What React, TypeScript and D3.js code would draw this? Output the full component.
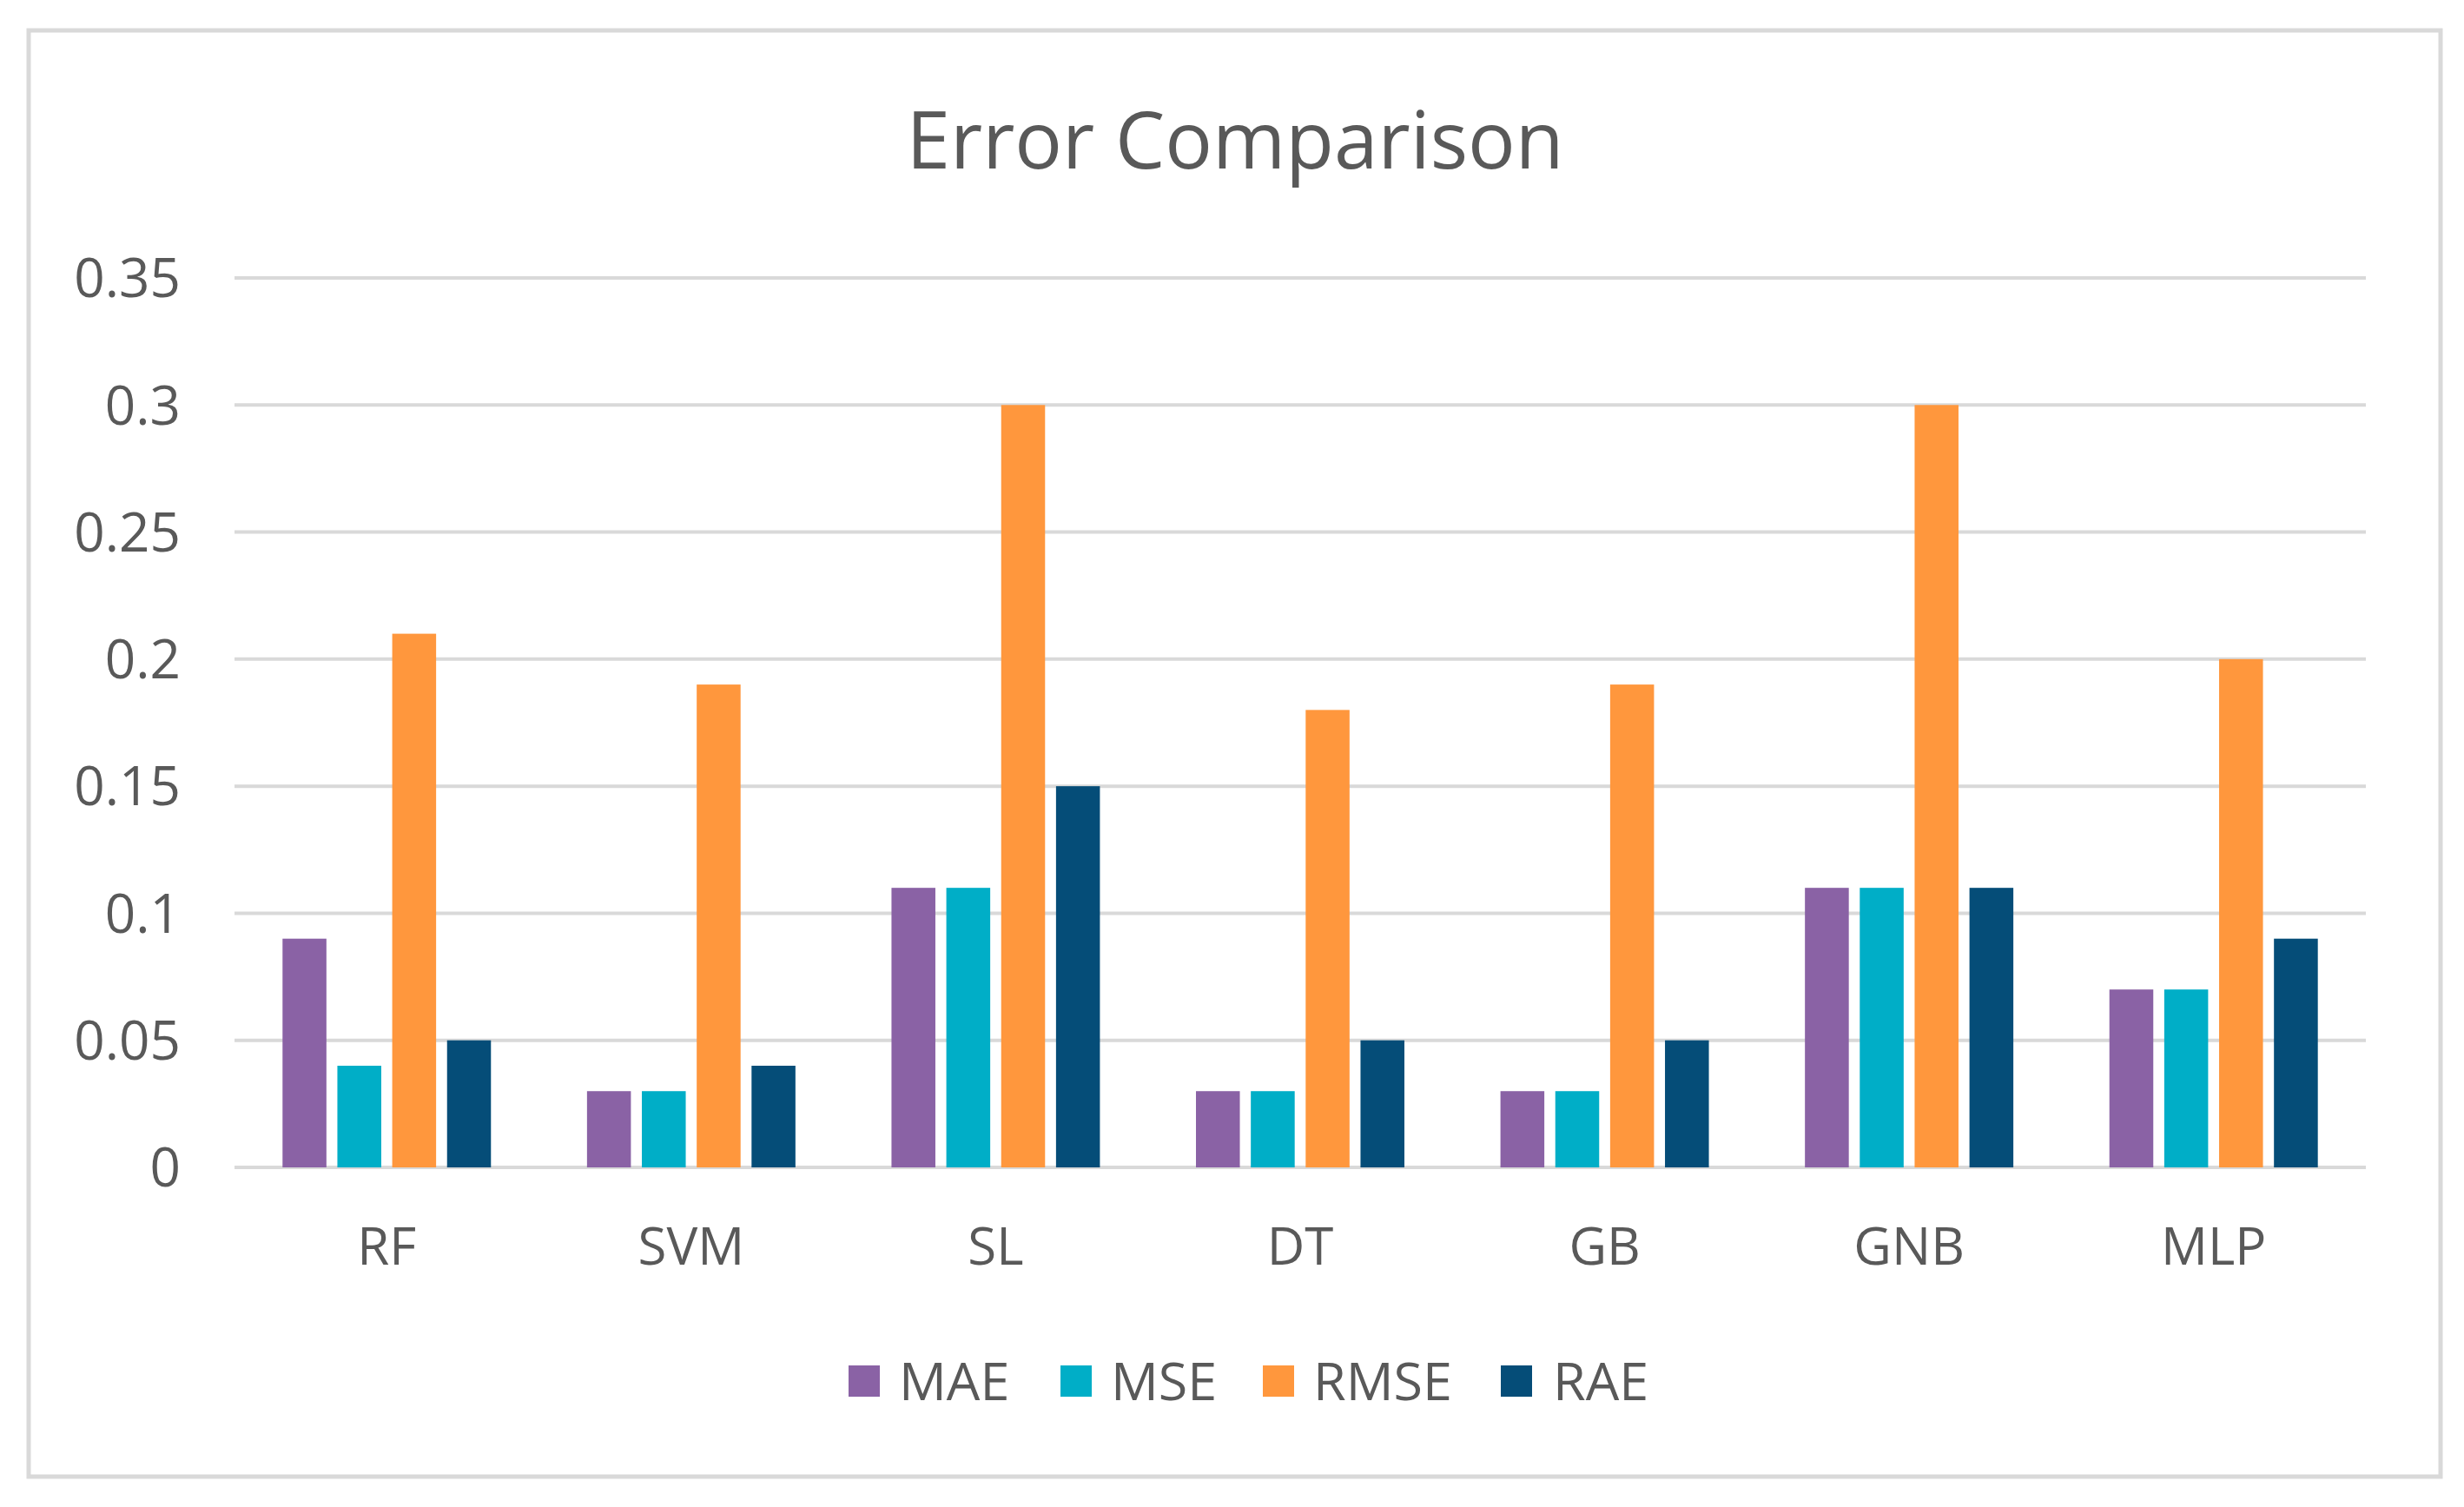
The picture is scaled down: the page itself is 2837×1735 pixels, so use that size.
import React from "react";
import * as d3 from "d3";

const categories = ["RF", "SVM", "SL", "DT", "GB", "GNB", "MLP"];
const seriesNames = ["MAE", "MSE", "RMSE", "RAE"];
const maeValues = [0.09, 0.03, 0.11, 0.03, 0.03, 0.11, 0.07];
const mseValues = [0.04, 0.03, 0.11, 0.03, 0.03, 0.11, 0.07];
const rmseValues = [0.21, 0.19, 0.3, 0.18, 0.19, 0.3, 0.2];
const raeValues = [0.05, 0.04, 0.15, 0.05, 0.05, 0.11, 0.09];
const yTicks = [0, 0.05, 0.1, 0.15, 0.2, 0.25, 0.3, 0.35];
const tickLabels = ["0", "0.05", "0.1", "0.15", "0.2", "0.25", "0.3", "0.35"];
const colors = ["#8A62A5", "#00AEC7", "#FF973D", "#054D78"];
const title = "Error Comparison";

const W = 2837;
const H = 1735;
const FONT = "'Open Sans', 'Noto Sans', sans-serif";
const TEXT = "#595959";
const GRID = "#d9d9d9";

export default function App() {
  const plotLeft = 270;
  const plotRight = 2724;
  const yZero = 1344;
  const yTop = 320;

  const seriesValues = [maeValues, mseValues, rmseValues, raeValues];

  const x0 = d3
    .scaleBand<string>()
    .domain(categories)
    .range([plotLeft, plotRight])
    .paddingInner(0.3155)
    .paddingOuter(0.3155 / 2);

  const x1 = d3
    .scaleBand<string>()
    .domain(seriesNames)
    .range([0, x0.bandwidth()])
    .paddingInner(0.2)
    .paddingOuter(0);

  const y = d3.scaleLinear().domain([0, 0.35]).range([yZero, yTop]);

  const legendY = 1590;
  const legendItems = [
    { sx: 977, tx: 1035 },
    { sx: 1221, tx: 1279 },
    { sx: 1454, tx: 1512 },
    { sx: 1728, tx: 1788 },
  ];

  return (
    <div style={{ position: "absolute", left: 0, top: 0 }}>
      <svg width={W} height={H} style={{ display: "block", background: "#fff" }}>
        <rect x={0} y={0} width={W} height={H} fill="#ffffff" />
        <rect
          x={33}
          y={35}
          width={2810 - 33}
          height={1700 - 35}
          fill="#ffffff"
          stroke={GRID}
          strokeWidth={5}
        />
        <text
          x={1422}
          y={194}
          textAnchor="middle"
          fontFamily={FONT}
          fontSize={91}
          fill={TEXT}
        >
          {title}
        </text>

        {yTicks.map((t, i) => (
          <g key={"t" + i}>
            <line
              x1={plotLeft}
              x2={plotRight}
              y1={y(t)}
              y2={y(t)}
              stroke={GRID}
              strokeWidth={4}
            />
            <text
              x={208}
              y={y(t)}
              dy="0.36em"
              textAnchor="end"
              fontFamily={FONT}
              fontSize={62}
              fill={TEXT}
            >
              {tickLabels[i]}
            </text>
          </g>
        ))}

        {categories.map((c, ci) => (
          <g key={c} transform={`translate(${x0(c)},0)`}>
            {seriesNames.map((s, si) => {
              const v = seriesValues[si][ci];
              return (
                <rect
                  key={s}
                  x={x1(s)}
                  y={y(v)}
                  width={x1.bandwidth()}
                  height={y(0) - y(v)}
                  fill={colors[si]}
                />
              );
            })}
          </g>
        ))}

        {categories.map((c) => (
          <text
            key={"l" + c}
            x={(x0(c) as number) + x0.bandwidth() / 2}
            y={1456}
            textAnchor="middle"
            fontFamily={FONT}
            fontSize={60}
            fill={TEXT}
          >
            {c}
          </text>
        ))}

        {seriesNames.map((s, i) => (
          <g key={"lg" + s}>
            <rect
              x={legendItems[i].sx}
              y={legendY - 18}
              width={36}
              height={36}
              fill={colors[i]}
            />
            <text
              x={legendItems[i].tx}
              y={legendY}
              dy="0.36em"
              fontFamily={FONT}
              fontSize={61}
              fill={TEXT}
            >
              {s}
            </text>
          </g>
        ))}
      </svg>
    </div>
  );
}
